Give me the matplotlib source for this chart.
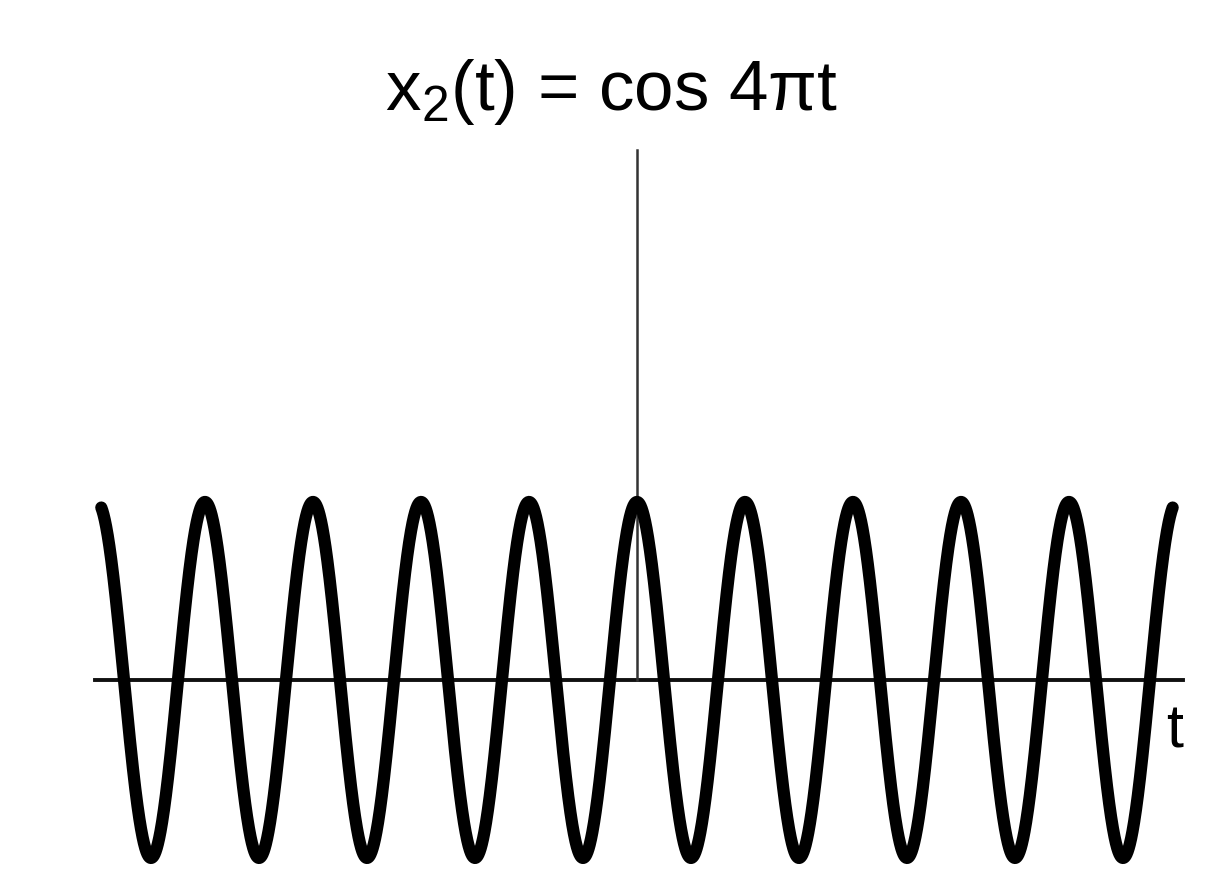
import matplotlib
matplotlib.use('Agg')
import matplotlib.pyplot as plt
import numpy as np

# signal parameters: x2(t) = cos(4*pi*t)
omega = 4 * np.pi
amplitude = 1.0
t_start, t_end = -2.48, 2.48
axis_t = [-2.51, 2.53]     # extent of the horizontal t axis
axis_y_top = 2.98          # top of the vertical axis line
title_text = r'x$_2$(t) = cos 4πt'
t_label = 't'

plt.rcParams['mathtext.fontset'] = 'custom'
plt.rcParams['mathtext.rm'] = 'Liberation Sans'
plt.rcParams['mathtext.it'] = 'Liberation Sans'
plt.rcParams['font.family'] = ['Liberation Sans', 'DejaVu Sans']

fig = plt.figure(figsize=(12.15, 8.85), dpi=100)
ax = fig.add_axes([0, 0, 1, 1])
ax.set_xlim(-2.949, 2.676)
ax.set_ylim(-1.152, 3.820)
ax.axis('off')

t = np.linspace(t_start, t_end, 4000)
x2 = amplitude * np.cos(omega * t)

# axes drawn first so the curve sits on top
ax.plot(axis_t, [0, 0], color='#111111', lw=2.8, zorder=1)
ax.plot([0, 0], [0, axis_y_top], color='#333333', lw=1.8, zorder=1)
ax.plot(t, x2, color='black', lw=8.8, solid_capstyle='round', zorder=2)

ax.text(-0.12, 3.20, title_text, fontsize=51, ha='center', va='baseline')
ax.text(2.49, -0.38, t_label, fontsize=44, ha='center', va='baseline')

plt.savefig('out.png', dpi=100, facecolor='white')
